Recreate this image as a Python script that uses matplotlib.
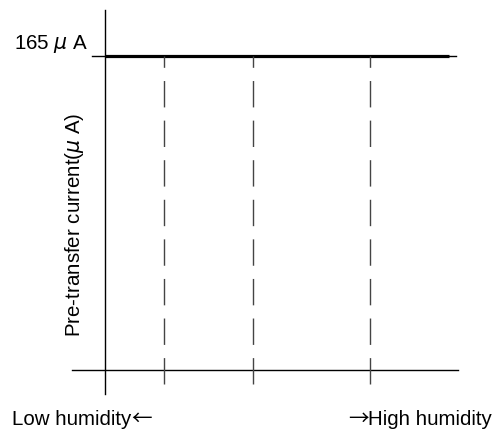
import matplotlib
matplotlib.use("Agg")
import matplotlib.pyplot as plt

plt.rcParams['font.family'] = ['Liberation Sans', 'DejaVu Sans']
plt.rcParams['lines.scale_dashes'] = False

# schematic values
current_level = 165            # uA, pre-transfer current
current_label = r"165 $\mu$ A"
humidity_bounds = [1.69, 4.23, 7.57]   # boundaries between humidity ranges
x_end = 9.83
ylabel = r"Pre-transfer current($\mu$ A)"
low_label = "Low humidity"
high_label = "High humidity"

fig = plt.figure(figsize=(4.97, 4.30), dpi=100)
ax = fig.add_axes([0, 0, 1, 1])
ax.set_xlim(-3.0, 11.2)
ax.set_ylim(-31.5, 194.4)
ax.axis('off')

# axes lines
ax.plot([0, 0], [-12.6, 189.2], color='black', lw=1.0)
ax.plot([-0.94, 10.09], [0, 0], color='black', lw=1.0)

# current level
ax.plot([-0.37, 10.03], [current_level, current_level], color='black', lw=1.0)
ax.plot([0, x_end], [current_level, current_level], color='black', lw=2.3,
        solid_capstyle='butt')

# humidity boundaries (drawn bottom to top so dashes start at the bottom)
for xb in humidity_bounds:
    ax.plot([xb, xb], [-7.4, current_level], color='#444444', lw=1.0,
            dashes=(19, 9.5), dash_capstyle='butt')

fs = 14.8
ax.text(-0.49, 168.7, current_label, ha='right', va='baseline', fontsize=fs)
ax.text(-0.86, 76.2, ylabel, rotation=90, ha='center', va='center', fontsize=fs)

yb = -28.9
t_low = ax.text(-2.66, yb, low_label, ha='left', va='baseline', fontsize=fs)
ax.annotate("\u2190", xy=(1, yb), xycoords=(t_low, 'data'), ha='left',
            va='baseline', fontsize=fs, family='Noto Sans CJK JP')
t_high = ax.text(11.06, yb, high_label, ha='right', va='baseline', fontsize=fs)
ax.annotate("\u2192", xy=(0, yb), xycoords=(t_high, 'data'), ha='right',
            va='baseline', fontsize=fs, family='Noto Sans CJK JP')

fig.savefig("out.png", dpi=100)
